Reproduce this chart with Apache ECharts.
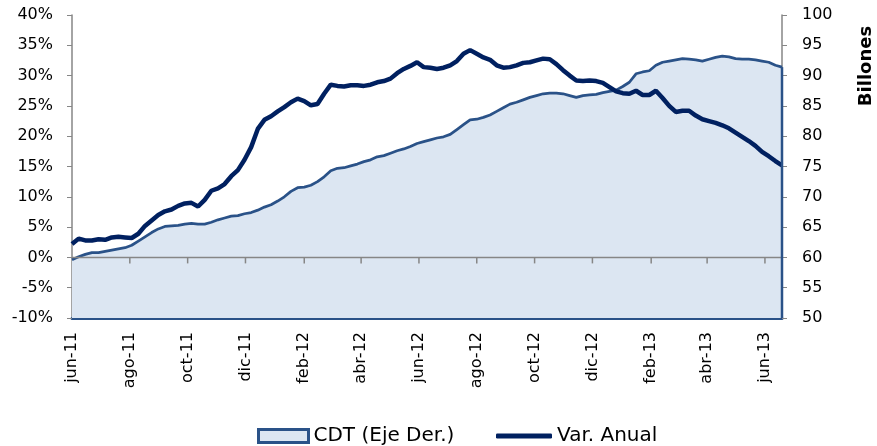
<!DOCTYPE html>
<html>
<head>
<meta charset="utf-8">
<script src="https://cdn.jsdelivr.net/npm/echarts@6/dist/echarts.min.js"></script>
<style>
  html, body { margin: 0; padding: 0; background: #fff; }
  #chart { width: 877px; height: 446px; }
</style>
</head>
<body>
<div id="chart"></div>
<script>
// semanas desde jun-11 (datos semanales)
var startDate = '2011-06-01';
var nWeeks = 108;
var monthNames = ['ene', 'feb', 'mar', 'abr', 'may', 'jun', 'jul', 'ago', 'sep', 'oct', 'nov', 'dic'];
// marcas del eje x (cada dos meses)
var tickDates = ['2011-06-01', '2011-08-01', '2011-10-01', '2011-12-01', '2012-02-01', '2012-04-01',
  '2012-06-01', '2012-08-01', '2012-10-01', '2012-12-01', '2013-02-01', '2013-04-01', '2013-06-01'];

// CDT, billones (eje derecho)
var cdt = [59.6, 60.1, 60.5, 60.8, 60.8, 61.0, 61.2, 61.4, 61.6, 62.0,
  62.7, 63.4, 64.1, 64.7, 65.1, 65.2, 65.3, 65.5, 65.6, 65.5,
  65.5, 65.8, 66.2, 66.5, 66.8, 66.9, 67.2, 67.4, 67.8, 68.3,
  68.7, 69.3, 70.0, 70.9, 71.5, 71.6, 71.9, 72.5, 73.3, 74.3,
  74.7, 74.8, 75.1, 75.4, 75.8, 76.1, 76.6, 76.8, 77.2, 77.6,
  77.9, 78.3, 78.8, 79.1, 79.4, 79.7, 79.9, 80.3, 81.1, 81.9,
  82.7, 82.8, 83.1, 83.5, 84.1, 84.7, 85.3, 85.6, 86.0, 86.4,
  86.7, 87.0, 87.1, 87.1, 87.0, 86.7, 86.4, 86.7, 86.8, 86.9,
  87.2, 87.4, 87.6, 88.2, 88.9, 90.3, 90.6, 90.8, 91.7, 92.2,
  92.4, 92.6, 92.8, 92.7, 92.6, 92.4, 92.7, 93.0, 93.2, 93.1,
  92.8, 92.7, 92.7, 92.6, 92.4, 92.2, 91.7, 91.4];

// variacion anual, % (eje izquierdo)
var varAnual = [2.2, 3.1, 2.8, 2.8, 3.0, 2.9, 3.3, 3.4, 3.3, 3.2,
  3.9, 5.2, 6.1, 7.0, 7.6, 7.9, 8.5, 8.9, 9.0, 8.4,
  9.5, 11.0, 11.4, 12.1, 13.4, 14.4, 16.1, 18.2, 21.2, 22.7,
  23.3, 24.1, 24.8, 25.6, 26.2, 25.8, 25.1, 25.3, 27.0, 28.5,
  28.3, 28.2, 28.4, 28.4, 28.3, 28.5, 28.9, 29.1, 29.5, 30.4,
  31.1, 31.6, 32.2, 31.4, 31.3, 31.1, 31.3, 31.7, 32.4, 33.6,
  34.2, 33.6, 33.0, 32.6, 31.7, 31.3, 31.4, 31.7, 32.1, 32.2,
  32.5, 32.8, 32.7, 31.9, 30.9, 30.0, 29.2, 29.1, 29.2, 29.1,
  28.8, 28.1, 27.4, 27.1, 27.0, 27.5, 26.8, 26.8, 27.5, 26.3,
  25.0, 24.0, 24.2, 24.2, 23.4, 22.8, 22.5, 22.2, 21.8, 21.3,
  20.6, 19.9, 19.2, 18.4, 17.4, 16.7, 15.9, 15.2];

// eje x en dias desde startDate
var DAY = 86400000;
var t0 = new Date(startDate + 'T00:00:00Z').getTime();
var days = [];
for (var i = 0; i < nWeeks; i++) {
  days.push(i * 7);
}
var tickDays = tickDates.map(function (d) {
  return Math.round((new Date(d + 'T00:00:00Z').getTime() - t0) / DAY);
});
var cdtData = days.map(function (d, i) { return [d, cdt[i]]; });
var varData = days.map(function (d, i) { return [d, varAnual[i]]; });
var lastDay = days[days.length - 1];

var font = 'DejaVu Sans';
var grey = '#868686';

function dayLabel(v) {
  var d = new Date(t0 + v * DAY);
  return monthNames[d.getUTCMonth()] + '-' + String(d.getUTCFullYear()).slice(2);
}

var chart = echarts.init(document.getElementById('chart'), null, { renderer: 'canvas' });
var option = {
  animation: false,
  grid: { left: 72, right: 95, top: 15, bottom: 128, containLabel: false },
  legend: [{
    left: 252, top: 421,
    itemWidth: 50, itemHeight: 13,
    textStyle: { fontFamily: font, fontSize: 20, color: '#000' },
    data: [{ name: 'CDT (Eje Der.)', icon: 'rect',
      itemStyle: { color: '#dce6f2', borderColor: '#2a5288', borderWidth: 3 } }]
  }, {
    left: 491, top: 421,
    itemWidth: 56, itemHeight: 5,
    textStyle: { fontFamily: font, fontSize: 20, color: '#000' },
    data: [{ name: 'Var. Anual', icon: 'roundRect',
      itemStyle: { color: '#002060', borderWidth: 0 } }]
  }],
  xAxis: {
    type: 'value',
    position: 'bottom',
    min: 0,
    max: lastDay,
    splitLine: { show: false },
    axisLine: { onZero: false, lineStyle: { color: '#2a5288', width: 3 } },
    axisTick: { show: false },
    axisLabel: {
      customValues: tickDays,
      rotate: 90,
      margin: 14,
      fontFamily: font, fontSize: 16, color: '#000',
      formatter: dayLabel
    }
  },
  yAxis: [{
    type: 'value',
    position: 'left',
    min: -10, max: 40, interval: 5,
    splitLine: { show: false },
    axisLine: { show: true, onZero: false, lineStyle: { color: grey, width: 1.5 } },
    axisTick: { show: true, length: 5, lineStyle: { color: grey } },
    axisLabel: { margin: 19, fontFamily: font, fontSize: 16, color: '#000',
      formatter: function (v) { return v + '%'; } }
  }, {
    type: 'value',
    position: 'right',
    min: 50, max: 100, interval: 5,
    splitLine: { show: false },
    axisLine: { show: true, onZero: false, lineStyle: { color: grey, width: 1.5 } },
    axisTick: { show: true, length: 5, lineStyle: { color: grey } },
    axisLabel: { margin: 20, fontFamily: font, fontSize: 16, color: '#000' }
  }],
  series: [{
    name: 'CDT (Eje Der.)',
    type: 'line',
    yAxisIndex: 1,
    data: cdtData,
    symbol: 'none',
    z: 2,
    lineStyle: { color: '#2a5288', width: 2.75 },
    itemStyle: { color: '#2a5288' },
    areaStyle: { color: '#dce6f2', opacity: 1 }
  }, {
    name: 'Var. Anual',
    type: 'line',
    yAxisIndex: 0,
    data: varData,
    symbol: 'none',
    z: 4,
    lineStyle: { color: '#002060', width: 4.5 },
    itemStyle: { color: '#002060' }
  }]
};
chart.setOption(option);

// linea del 0%, marcas y borde derecho del area, via las escalas del grafico
var leftAx = { xAxisIndex: 0, yAxisIndex: 0 };
var rightAx = { xAxisIndex: 0, yAxisIndex: 1 };
var z0a = chart.convertToPixel(leftAx, [0, 0]);
var z0b = chart.convertToPixel(leftAx, [lastDay, 0]);
var extras = [{
  type: 'line', z: 50, silent: true,
  shape: { x1: z0a[0], y1: z0a[1], x2: z0b[0], y2: z0b[1] },
  style: { stroke: grey, lineWidth: 1.5 }
}];
tickDays.slice(1).forEach(function (d) {
  var p = chart.convertToPixel(leftAx, [d, 0]);
  extras.push({
    type: 'line', z: 50, silent: true,
    shape: { x1: p[0], y1: p[1], x2: p[0], y2: p[1] + 6 },
    style: { stroke: grey, lineWidth: 1.5 }
  });
});
var eb = chart.convertToPixel(rightAx, [lastDay, 50]);
var et = chart.convertToPixel(rightAx, [lastDay, cdt[cdt.length - 1]]);
extras.push({
  type: 'line', z: 50, silent: true,
  shape: { x1: eb[0], y1: eb[1], x2: et[0], y2: et[1] },
  style: { stroke: '#2a5288', lineWidth: 2.5 }
});
extras.push({
  type: 'text',
  x: 866, y: 66,
  rotation: Math.PI / 2,
  style: { text: 'Billones', font: 'bold 18px "DejaVu Sans"', fill: '#000',
    align: 'center', verticalAlign: 'middle' }
});
chart.setOption({ graphic: extras });
</script>
</body>
</html>
